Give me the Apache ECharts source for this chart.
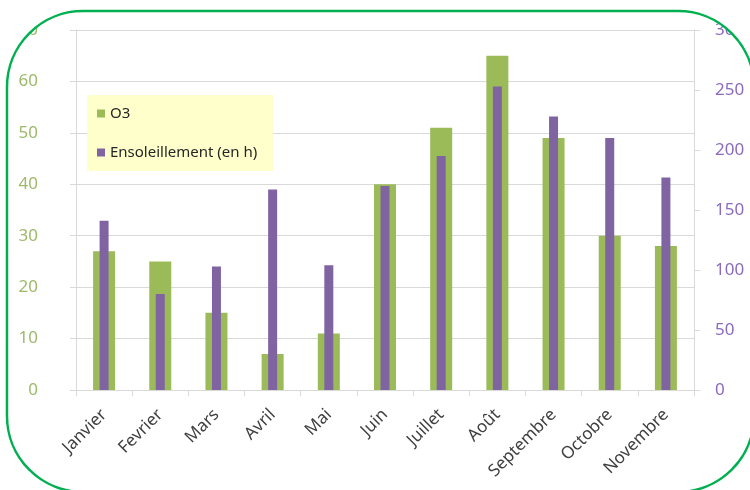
<!DOCTYPE html>
<html>
<head>
<meta charset="utf-8">
<script src="https://cdn.jsdelivr.net/npm/echarts@6/dist/echarts.min.js"></script>
<style>html,body{margin:0;padding:0;background:#fff}#c{width:750px;height:490px}</style>
</head>
<body>
<div id="c"></div>
<script>
var categories = ['Janvier','Fevrier','Mars','Avril','Mai','Juin','Juillet','Août','Septembre','Octobre','Novembre'];
var o3 = [27, 25, 15, 7, 11, 40, 51, 65, 49, 30, 28];
var sunshine = [141, 80, 103, 167, 104, 170, 195, 253, 228, 210, 177];
var leftTicks = {min: 0, max: 70, interval: 10};
var rightTicks = {min: 0, max: 300, interval: 50};

// Frame geometry (rounded border that clips the chart)
var L = 7, T = 11, R = 754, B = 492, r = 76;
function arcPts(cx, cy, a0, a1) {
  var pts = [], n = 24;
  for (var i = 0; i <= n; i++) {
    var a = a0 + (a1 - a0) * i / n;
    pts.push([cx + r * Math.cos(a), cy + r * Math.sin(a)]);
  }
  return pts;
}
// inner rounded rect traced counter-clockwise on screen (angles decreasing)
var inner = [].concat(
  arcPts(L + r, T + r, -Math.PI / 2, -Math.PI),
  arcPts(L + r, B - r, Math.PI, Math.PI / 2),
  arcPts(R - r, B - r, Math.PI / 2, 0),
  arcPts(R - r, T + r, 0, -Math.PI / 2)
);
// outer rectangle traced clockwise on screen
var maskPts = [[L + r, -5], [760, -5], [760, 500], [-5, 500], [-5, -5], [L + r, -5]].concat(inner).concat([[L + r, T]]);

var chart = echarts.init(document.getElementById('c'));
var font = 'Noto Sans';
chart.setOption({
  animation: false,
  backgroundColor: '#ffffff',
  textStyle: {fontFamily: font},
  grid: {left: 76, right: 56, top: 30, bottom: 100, containLabel: false},
  legend: {
    orient: 'vertical',
    left: 87, top: 95,
    backgroundColor: '#FFFFCC',
    padding: [11, 16, 11, 10],
    itemWidth: 8, itemHeight: 8, itemGap: 24,
    icon: 'rect',
    textStyle: {fontFamily: font, fontSize: 15, color: '#262626'},
    data: ['O3', 'Ensoleillement (en h)']
  },
  xAxis: [{
    type: 'category', data: categories, boundaryGap: true,
    axisLine: {lineStyle: {color: '#D9D9D9'}},
    axisTick: {show: true, alignWithLabel: false, length: 6, lineStyle: {color: '#D9D9D9'}},
    axisLabel: {rotate: 45, margin: 22, fontSize: 17, color: '#404040', fontFamily: font, interval: 0}
  }, {
    type: 'category', data: categories, show: false, boundaryGap: true
  }],
  yAxis: [{
    type: 'value', min: leftTicks.min, max: leftTicks.max, interval: leftTicks.interval,
    axisLine: {show: true, lineStyle: {color: '#D9D9D9'}},
    axisTick: {show: true, length: 6, lineStyle: {color: '#D9D9D9'}},
    axisLabel: {margin: 38, fontSize: 17, color: '#9DB96A', fontFamily: font},
    splitLine: {show: true, lineStyle: {color: '#D9D9D9', width: 1}}
  }, {
    type: 'value', min: rightTicks.min, max: rightTicks.max, interval: rightTicks.interval,
    position: 'right',
    axisLine: {show: true, lineStyle: {color: '#D9D9D9'}},
    axisTick: {show: true, length: 6, lineStyle: {color: '#D9D9D9'}},
    axisLabel: {margin: 21, fontSize: 17, color: '#8B6BBF', fontFamily: font},
    splitLine: {show: false}
  }],
  series: [{
    name: 'O3', type: 'bar', xAxisIndex: 0, yAxisIndex: 0,
    data: o3, barWidth: 22, itemStyle: {color: '#9BBB59'}
  }, {
    name: 'Ensoleillement (en h)', type: 'bar', xAxisIndex: 1, yAxisIndex: 1,
    data: sunshine, barWidth: 9, itemStyle: {color: '#8064A2'}
  }],
  graphic: [{
    type: 'polygon', z: 100, silent: true,
    shape: {points: maskPts},
    style: {fill: '#ffffff'}
  }, {
    type: 'rect', z: 101, silent: true,
    shape: {x: L, y: T, width: R - L, height: B - T, r: r},
    style: {fill: 'none', stroke: '#00B050', lineWidth: 2.5}
  }]
});
</script>
</body>
</html>
